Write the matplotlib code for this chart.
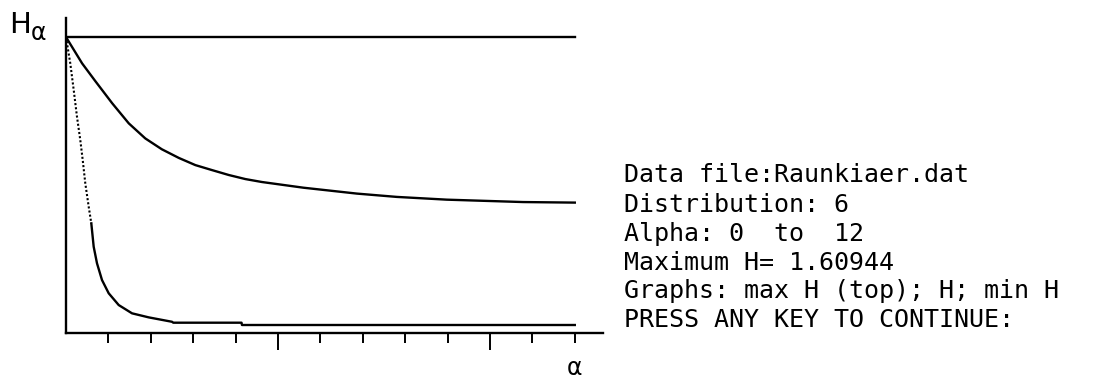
"""
plot.py - Renyi diversity profile (H alpha) screen recreation.
"""

import matplotlib
matplotlib.use("Agg")
import matplotlib.pyplot as plt
from matplotlib.ticker import FixedLocator

# max H (top), constant ln(5)
alpha_max = [0.0, 12.0]
h_max = [1.60944, 1.60944]

# H for the data set
alpha_h = [0.0, 0.38, 0.69, 1.09, 1.48, 1.87, 2.26, 2.66, 3.05, 3.44,
           3.84, 4.23, 4.62, 5.60, 6.86, 7.80, 8.98, 10.78, 12.0]
h_vals = [1.609, 1.466, 1.370, 1.249, 1.140, 1.058, 0.999, 0.952, 0.913, 0.886,
          0.859, 0.837, 0.821, 0.790, 0.758, 0.740, 0.725, 0.712, 0.709]

# min H (steep part is drawn dotted)
alpha_min = [0.0, 0.101, 0.182, 0.259, 0.337, 0.394, 0.455, 0.535, 0.597,
             0.653, 0.731, 0.849, 1.007, 1.243, 1.557, 1.95, 2.5, 2.53,
             4.14, 4.15, 12.0]
hmin_vals = [1.609, 1.466, 1.321, 1.176, 1.049, 0.941, 0.814, 0.687, 0.596,
             0.469, 0.379, 0.288, 0.216, 0.152, 0.107, 0.085, 0.061, 0.056,
             0.056, 0.0435, 0.0435]
n_dotted = 9

info_lines = [
    "Data file:Raunkiaer.dat",
    "Distribution: 6",
    "Alpha: 0  to  12",
    "Maximum H= 1.60944",
    "Graphs: max H (top); H; min H",
    "PRESS ANY KEY TO CONTINUE:",
]

W, H = 1097, 378
fig = plt.figure(figsize=(W / 100, H / 100), dpi=100)

# axes box in pixels: y axis at x=66, x axis at y=333
x0, x1, y_top, y_bot = 66, 603, 18, 333
ax = fig.add_axes([x0 / W, (H - y_bot) / H, (x1 - x0) / W, (y_bot - y_top) / H])
ax.set_xlim(0, (x1 - x0) / 42.4)
ax.set_ylim(0, (y_bot - y_top) * 1.60944 / 296)

lw = 1.7
ax.plot(alpha_max, h_max, color="black", linewidth=lw)
ax.plot(alpha_h, h_vals, color="black", linewidth=lw)
ax.plot(alpha_min[:n_dotted], hmin_vals[:n_dotted], color="black",
        linewidth=1.5, linestyle=(0, (1, 1.0)))
ax.plot(alpha_min[n_dotted - 1:], hmin_vals[n_dotted - 1:], color="black", linewidth=lw)

for side in ("top", "right"):
    ax.spines[side].set_visible(False)
for side in ("left", "bottom"):
    ax.spines[side].set_linewidth(1.7)
    ax.spines[side].set_color("black")

ax.xaxis.set_major_locator(FixedLocator([5, 10]))
ax.xaxis.set_minor_locator(FixedLocator([1, 2, 3, 4, 6, 7, 8, 9, 11, 12]))
ax.tick_params(axis="x", which="major", direction="out", length=12.5, width=1.4,
               labelbottom=False)
ax.tick_params(axis="x", which="minor", direction="out", length=7.5, width=1.4)
ax.set_yticks([])

# axis symbols
fig.text(9 / W, 1 - 33 / H, "H", fontsize=21, ha="left", va="baseline",
         family="DejaVu Sans")
fig.text(31 / W, 1 - 40 / H, "α", fontsize=17, ha="left", va="baseline",
         family="DejaVu Sans")
fig.text(567 / W, 1 - 375 / H, "α", fontsize=17, ha="left", va="baseline",
         family="DejaVu Sans")

baselines = [182, 212, 241, 270, 298, 327]
for line, yb in zip(info_lines, baselines):
    fig.text(624 / W, 1 - yb / H, line, fontsize=18, ha="left", va="baseline",
             family="DejaVu Sans Mono")

fig.savefig("out.png", dpi=100)
